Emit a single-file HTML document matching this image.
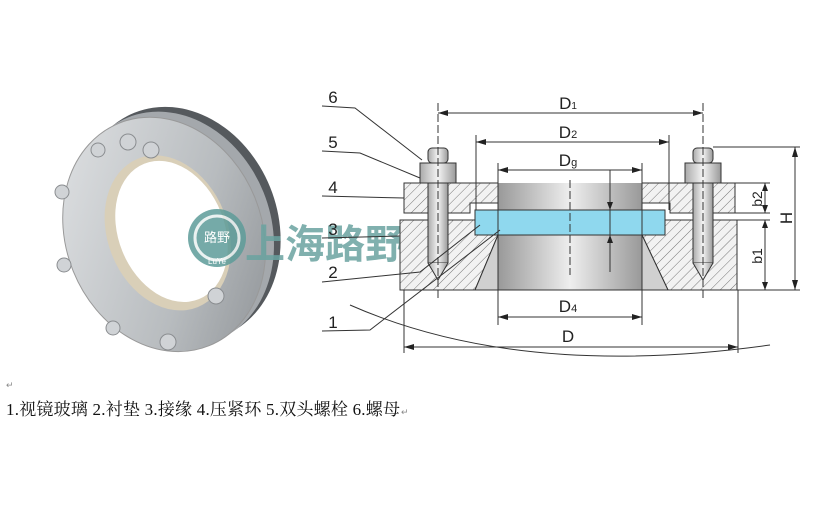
<!DOCTYPE html>
<html><head><meta charset="utf-8"><style>
html,body{margin:0;padding:0;background:#fff;width:822px;height:525px;overflow:hidden}
</style></head><body>
<svg width="822" height="525" viewBox="0 0 822 525" xmlns="http://www.w3.org/2000/svg" font-family="Liberation Sans, sans-serif">
<defs>
<pattern id="h" width="7" height="7" patternUnits="userSpaceOnUse" patternTransform="rotate(45)">
<rect width="7" height="7" fill="#f2f2f2"/><line x1="0" y1="0" x2="0" y2="7" stroke="#777" stroke-width="1"/></pattern>
<linearGradient id="bore" x1="0" x2="1"><stop offset="0" stop-color="#999"/><stop offset="0.5" stop-color="#eee"/><stop offset="1" stop-color="#999"/></linearGradient>
<linearGradient id="ring" x1="0" y1="0" x2="1" y2="1"><stop offset="0" stop-color="#e2e4e6"/><stop offset="0.6" stop-color="#b8bcbf"/><stop offset="1" stop-color="#8a8e92"/></linearGradient>
<linearGradient id="bolt" x1="0" x2="1"><stop offset="0" stop-color="#aaa"/><stop offset="0.5" stop-color="#f4f4f4"/><stop offset="1" stop-color="#999"/></linearGradient>
</defs>

<!-- Photo -->
<g transform="rotate(-22 160 235)">
<ellipse cx="182" cy="232" rx="98" ry="120" fill="#55595d"/>
<ellipse cx="174" cy="234" rx="98" ry="120" fill="#a4a8ac"/>
<ellipse cx="164" cy="236" rx="98" ry="120" fill="url(#ring)" stroke="#999" stroke-width="1"/>
<ellipse cx="168" cy="236" rx="60" ry="80" fill="#d9cfb8"/>
<ellipse cx="172" cy="236" rx="53" ry="73" fill="#fff"/>
</g>
<g fill="#d0d3d6" stroke="#8a8d90">
<circle cx="128" cy="142" r="8"/><circle cx="98" cy="150" r="7"/><circle cx="62" cy="192" r="7"/>
<circle cx="64" cy="265" r="7"/><circle cx="113" cy="328" r="7"/><circle cx="168" cy="342" r="8"/>
<circle cx="216" cy="296" r="8"/><circle cx="151" cy="150" r="8"/>
</g>

<!-- watermark -->
<g opacity="0.85">
<circle cx="217" cy="238" r="29" fill="#5e9c99"/>
<circle cx="217" cy="238" r="22" fill="none" stroke="#e8f0ef" stroke-width="3"/>
<text x="217" y="242" font-size="13" fill="#fff" text-anchor="middle" font-family="Liberation Sans, Noto Sans CJK SC, sans-serif">路野</text>
<text x="217" y="264" font-size="8" fill="#fff" text-anchor="middle">LuYe</text>
<text x="245" y="258" font-size="40" font-weight="bold" fill="#6aa3a0" font-family="Liberation Sans, Noto Sans CJK SC, sans-serif">上海路野</text>
</g>

<!-- Drawing -->
<g stroke="#333" stroke-width="1" fill="none">
<path d="M400 220 H498 V235 L475 290 H400 Z" fill="url(#h)"/>
<path d="M737 220 H642 V235 L668 290 H737 Z" fill="url(#h)"/>
<rect x="498" y="183" width="144" height="107" fill="url(#bore)" stroke="none"/>
<path d="M498 235 L475 290 H668 L642 235" fill="#d0d0d0"/>
<rect x="498" y="235" width="144" height="55" fill="url(#bore)" stroke="none"/>
<path d="M404 183 H498 V203 H470 V213 H404 Z" fill="url(#h)"/>
<path d="M735 183 H642 V203 H670 V213 H735 Z" fill="url(#h)"/>
<rect x="475" y="210" width="190" height="25" fill="#8fd8ee" stroke="#333"/>
<g fill="url(#bolt)">
<rect x="428" y="183" width="20" height="80"/><path d="M428 263 L438 280 L448 263"/>
<rect x="693" y="183" width="20" height="80"/><path d="M693 263 L703 280 L713 263"/>
<rect x="420" y="163" width="36" height="20"/><rect x="685" y="163" width="36" height="20"/>
<rect x="428" y="148" width="20" height="15" rx="4"/><rect x="693" y="148" width="20" height="15" rx="4"/>
</g>
<line x1="438" y1="103" x2="438" y2="300" stroke-dasharray="8 3"/>
<line x1="703" y1="103" x2="703" y2="300" stroke-dasharray="8 3"/>
<line x1="570" y1="180" x2="570" y2="275" stroke-dasharray="8 3"/>
<line x1="476" y1="135" x2="476" y2="210"/><line x1="669" y1="135" x2="669" y2="210"/>
<line x1="498" y1="163" x2="498" y2="325"/><line x1="642" y1="163" x2="642" y2="325"/>
<line x1="404" y1="290" x2="404" y2="353"/><line x1="738" y1="290" x2="738" y2="353"/>
<line x1="400" y1="290" x2="800" y2="290"/>
<line x1="713" y1="147" x2="800" y2="147"/>
<line x1="735" y1="183" x2="770" y2="183"/><line x1="735" y1="213" x2="770" y2="213"/><line x1="737" y1="220" x2="770" y2="220"/>
<line x1="438" y1="113" x2="703" y2="113"/><line x1="476" y1="142" x2="669" y2="142"/>
<line x1="498" y1="170" x2="642" y2="170"/><line x1="498" y1="317" x2="642" y2="317"/>
<line x1="404" y1="347" x2="738" y2="347"/>
<line x1="795" y1="147" x2="795" y2="290"/><line x1="765" y1="183" x2="765" y2="213"/><line x1="765" y1="220" x2="765" y2="290"/>
<line x1="610" y1="170" x2="610" y2="272"/>
<path d="M322 106 L355 108 L422 160"/><path d="M322 151 L360 153 L420 178"/>
<path d="M322 196 L404 198"/><path d="M322 238 L400 236"/>
<path d="M322 282 L420 272 L480 225"/><path d="M322 331 L370 330 L500 230"/>
<path d="M350 305 Q 520 380 770 345"/>
</g>
<g fill="#222">
<path d="M438 113 l10 -3 v6z"/><path d="M703 113 l-10 -3 v6z"/>
<path d="M476 142 l10 -3 v6z"/><path d="M669 142 l-10 -3 v6z"/>
<path d="M498 170 l10 -3 v6z"/><path d="M642 170 l-10 -3 v6z"/>
<path d="M498 317 l10 -3 v6z"/><path d="M642 317 l-10 -3 v6z"/>
<path d="M404 347 l10 -3 v6z"/><path d="M738 347 l-10 -3 v6z"/>
<path d="M795 147 l-3 10 h6z"/><path d="M795 290 l-3 -10 h6z"/>
<path d="M765 183 l-3 8 h6z"/><path d="M765 213 l-3 -8 h6z"/>
<path d="M765 220 l-3 8 h6z"/><path d="M765 290 l-3 -8 h6z"/>
<path d="M610 210 l-3 -8 h6z"/><path d="M610 235 l-3 8 h6z"/>
</g>
<g font-size="17" fill="#222" text-anchor="middle">
<text x="568" y="109">D<tspan font-size="10">1</tspan></text>
<text x="568" y="138">D<tspan font-size="11">2</tspan></text>
<text x="568" y="166">D<tspan font-size="11">g</tspan></text>
<text x="568" y="312">D<tspan font-size="11">4</tspan></text>
<text x="568" y="342">D</text>
<text x="333" y="103">6</text><text x="333" y="148">5</text><text x="333" y="193">4</text>
<text x="333" y="235">3</text><text x="333" y="278">2</text><text x="333" y="328">1</text>
<text transform="translate(792 218) rotate(-90)">H</text>
<text transform="translate(762 199) rotate(-90)" font-size="14">b2</text>
<text transform="translate(762 256) rotate(-90)" font-size="14">b1</text>
</g>

<text x="6" y="388" font-size="9" fill="#888">↵</text>
<text x="6" y="415" font-size="17" fill="#111" textLength="394" font-family="Liberation Serif, Noto Serif CJK SC, serif">1.视镜玻璃 2.衬垫 3.接缘 4.压紧环 5.双头螺栓 6.螺母</text>
<text x="401" y="415" font-size="9" fill="#888">↵</text>
</svg>
</body></html>
